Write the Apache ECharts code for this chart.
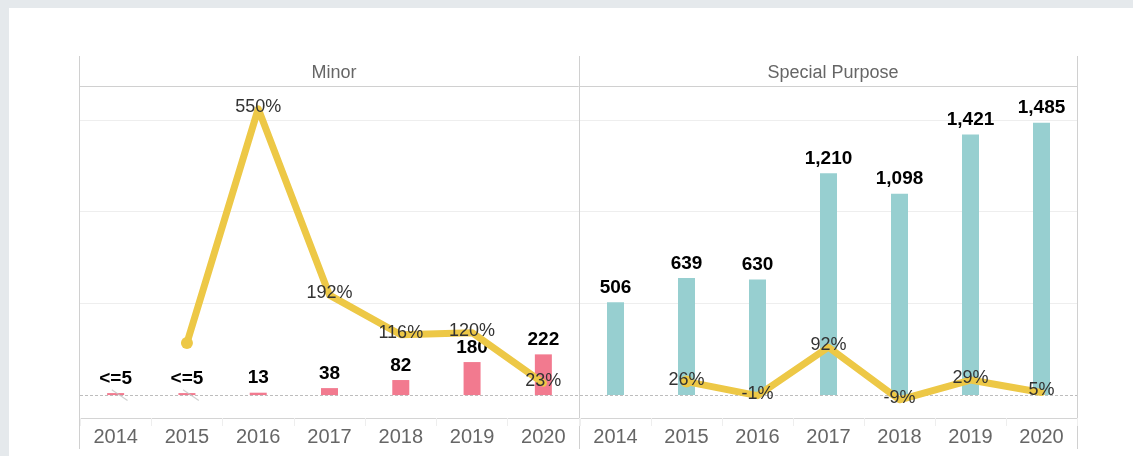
<!DOCTYPE html>
<html>
<head>
<meta charset="utf-8">
<style>
  html, body { margin: 0; padding: 0; background: #e5e9ec; }
  #main { width: 1133px; height: 456px; }
</style>
<script src="https://cdn.jsdelivr.net/npm/echarts@6/dist/echarts.min.js"></script>
</head>
<body>
<div id="main"></div>
<script>
// data
const years = ["2014", "2015", "2016", "2017", "2018", "2019", "2020"];
const panels = ["Minor", "Special Purpose"];

const minorCounts = [5, 5, 13, 38, 82, 180, 222];
const minorCountLabels = ["<=5", "<=5", "13", "38", "82", "180", "222"];
const minorChange = [null, 100, 550, 192, 116, 120, 23];

const specialCounts = [506, 639, 630, 1210, 1098, 1421, 1485];
const specialChange = [null, 26, -1, 92, -9, 29, 5];

const gridValues = [500, 1000, 1500];

const PINK = "#f27a8f";
const TEAL = "#97cfd0";
const YELLOW = "#edc846";
const FONT = "Liberation Sans, Arial, sans-serif";

const myChart = echarts.init(document.getElementById("main"));

function fmt(n) {
  return n.toLocaleString("en-US");
}

// first point with a value gets a visible dot, the rest only carry labels
function changeData(arr) {
  let first = true;
  return arr.map(function (v) {
    if (v === null) return null;
    if (first) {
      first = false;
      return { value: v, symbolSize: 12 };
    }
    return v;
  });
}

function barSeries(idx, counts, labels, color) {
  return {
    type: "bar",
    xAxisIndex: idx,
    yAxisIndex: idx * 2,
    data: counts,
    barWidth: 17,
    barMinHeight: 2,
    itemStyle: { color: color },
    label: {
      show: true,
      position: "top",
      distance: 5,
      color: "#000",
      fontWeight: "bold",
      fontSize: 19,
      fontFamily: FONT,
      formatter: function (p) {
        return labels ? labels[p.dataIndex] : fmt(p.value);
      },
    },
    markLine: {
      silent: true,
      symbol: "none",
      label: { show: false },
      z: 1,
      data: gridValues
        .map(function (v) {
          return { yAxis: v, lineStyle: { color: "#eeeeee", type: "solid", width: 1 } };
        })
        .concat([{ yAxis: 0, lineStyle: { color: "#bdbdbd", type: [3, 2], width: 1 } }]),
    },
    z: 2,
  };
}

function lineSeries(idx, change, hideFor) {
  return {
    type: "line",
    xAxisIndex: idx,
    yAxisIndex: idx * 2 + 1,
    data: changeData(change),
    symbol: "circle",
    symbolSize: 0,
    showSymbol: true,
    itemStyle: { color: YELLOW },
    lineStyle: { color: YELLOW, width: 7, cap: "round", join: "round" },
    label: {
      show: true,
      position: "inside",
      offset: [0, -2],
      color: "#333",
      fontSize: 18,
      fontFamily: FONT,
      formatter: function (p) {
        if (hideFor && hideFor[p.dataIndex].indexOf("<=") === 0) return "";
        return p.value + "%";
      },
    },
    z: 4,
  };
}

function xAxis(idx) {
  return {
    type: "category",
    gridIndex: idx,
    data: years,
    axisLine: { onZero: false, lineStyle: { color: "#d4d4d4", width: 1 } },
    axisTick: { show: true, length: 8, lineStyle: { color: "#eeeeee" } },
    axisLabel: { color: "#666", fontSize: 20, fontFamily: FONT, margin: 9 },
  };
}

function yAxes(idx) {
  return [
    { type: "value", gridIndex: idx, min: -125, max: 1680, show: false, splitLine: { show: false } },
    { type: "value", gridIndex: idx, min: -44, max: 592, show: false, splitLine: { show: false } },
  ];
}

const borderStyle = { stroke: "#d0d0d0", lineWidth: 1 };

const option = {
  backgroundColor: "#e5e9ec",
  animation: false,
  textStyle: { fontFamily: FONT },
  graphic: [
    { type: "rect", shape: { x: 9, y: 8, width: 1124, height: 448 }, style: { fill: "#fff" }, z: -10 },
    { type: "line", shape: { x1: 79.5, y1: 56, x2: 79.5, y2: 449 }, style: borderStyle },
    { type: "line", shape: { x1: 579.5, y1: 56, x2: 579.5, y2: 449 }, style: borderStyle },
    { type: "line", shape: { x1: 1077.5, y1: 56, x2: 1077.5, y2: 449 }, style: borderStyle },
    { type: "line", shape: { x1: 79, y1: 86.5, x2: 1078, y2: 86.5 }, style: borderStyle },
  ],
  title: [
    {
      text: panels[0],
      left: 329,
      top: 59,
      textAlign: "center",
      textStyle: { color: "#666", fontSize: 18, fontWeight: "normal", fontFamily: FONT },
    },
    {
      text: panels[1],
      left: 828,
      top: 59,
      textAlign: "center",
      textStyle: { color: "#666", fontSize: 18, fontWeight: "normal", fontFamily: FONT },
    },
  ],
  grid: [
    { left: 80, top: 87, width: 499, height: 331 },
    { left: 580, top: 87, width: 497, height: 331 },
  ],
  xAxis: [xAxis(0), xAxis(1)],
  yAxis: yAxes(0).concat(yAxes(1)),
  series: [
    barSeries(0, minorCounts, minorCountLabels, PINK),
    lineSeries(0, minorChange, minorCountLabels),
    barSeries(1, specialCounts, null, TEAL),
    lineSeries(1, specialChange, null),
    {
      // small grey slash over the suppressed bars
      type: "scatter",
      xAxisIndex: 0,
      yAxisIndex: 0,
      data: minorCountLabels
        .map(function (l, i) { return l.indexOf("<=") === 0 ? [i, 0] : null; })
        .filter(function (d) { return d; }),
      symbol: "rect",
      symbolSize: [19, 1.2],
      symbolRotate: -34,
      symbolOffset: [4, 0],
      itemStyle: { color: "#c4c4c4" },
      silent: true,
      z: 3,
    },
  ],
};

myChart.setOption(option);
</script>
</body>
</html>
